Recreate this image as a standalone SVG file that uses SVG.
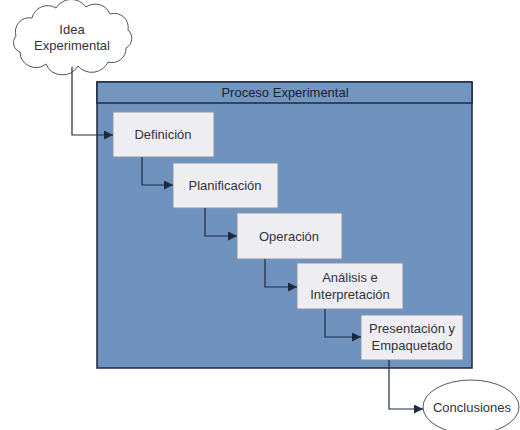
<svg xmlns="http://www.w3.org/2000/svg" width="520" height="430" viewBox="0 0 520 430">
<defs>
<style>
.box{fill:#ededf2;stroke:#8a96a8;stroke-width:1}
.t{font-family:"Liberation Sans",Arial,sans-serif;font-size:13px;fill:#33333b;text-anchor:middle}
.c{fill:none;stroke:#1e2a42;stroke-width:1.2}
.outline{fill:#ffffff;stroke:#555;stroke-width:1}
</style>
<marker id="ah" viewBox="0 0 10 10" refX="10" refY="5" markerWidth="10" markerHeight="9" markerUnits="userSpaceOnUse" orient="auto">
<path d="M0,0 L10,5 L0,10 Z" fill="#1e2a42"/>
</marker>
</defs>
<rect width="520" height="430" fill="#ffffff"/>

<g id="proceso">
<rect x="97" y="82" width="375" height="286" fill="#6f92be" stroke="#1e2a42" stroke-width="1.5"/>
<rect x="97" y="82" width="375" height="21" fill="#7396c0" stroke="#1e2a42" stroke-width="1.5"/>
<text class="t" x="285" y="97" style="fill:#1c2232">Proceso Experimental</text>
</g>

<g id="idea">
<path class="outline" d="M20,52 A10,10 0 0 1 16,36 A14,14 0 0 1 32,18 A16,16 0 0 1 56,8 A18,18 0 0 1 86,7 A16,16 0 0 1 110,14 A14,14 0 0 1 128,30 A11,11 0 0 1 126,48 A14,14 0 0 1 108,62 A18,18 0 0 1 78,66 A18,18 0 0 1 46,64 A16,16 0 0 1 20,52 Z"/>
<text class="t" x="72" y="34">Idea</text>
<text class="t" x="72" y="50">Experimental</text>
</g>

<g id="definicion">
<rect class="box" x="113" y="112" width="101" height="45"/>
<text class="t" x="163" y="139">Definición</text>
</g>
<g id="planificacion">
<rect class="box" x="173" y="163" width="105" height="45"/>
<text class="t" x="225" y="190">Planificación</text>
</g>
<g id="operacion">
<rect class="box" x="237" y="213" width="105" height="46"/>
<text class="t" x="289" y="241">Operación</text>
</g>
<g id="analisis">
<rect class="box" x="297" y="263" width="106" height="46"/>
<text class="t" x="350" y="282">Análisis e</text>
<text class="t" x="350" y="299">Interpretación</text>
</g>
<g id="presentacion">
<rect class="box" x="361" y="315" width="102" height="45"/>
<text class="t" x="412" y="333">Presentación y</text>
<text class="t" x="412" y="350">Empaquetado</text>
</g>

<g id="conclusiones">
<ellipse class="outline" cx="471" cy="407" rx="48" ry="27"/>
<text class="t" x="472" y="412">Conclusiones</text>
</g>

<g id="connectors">
<path class="c" d="M72,67 V135 H113" marker-end="url(#ah)"/>
<path class="c" d="M142,157 V185 H173" marker-end="url(#ah)"/>
<path class="c" d="M205,208 V236 H237" marker-end="url(#ah)"/>
<path class="c" d="M265,259 V287 H297" marker-end="url(#ah)"/>
<path class="c" d="M325,309 V337 H361" marker-end="url(#ah)"/>
<path class="c" d="M389,360 V409 H423" marker-end="url(#ah)"/>
</g>
</svg>
